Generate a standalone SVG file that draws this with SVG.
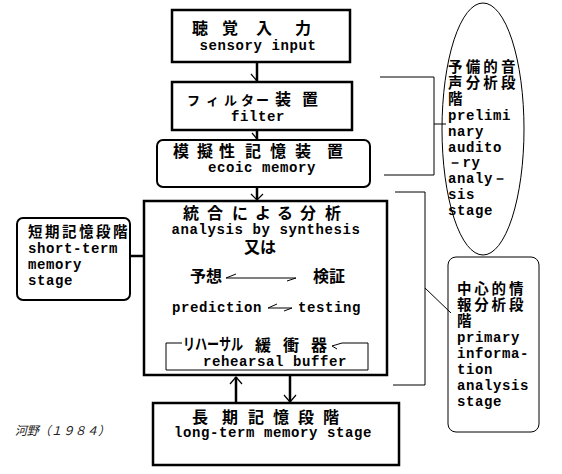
<svg xmlns="http://www.w3.org/2000/svg" width="562" height="474" viewBox="0 0 562 474">
<style>
.box{fill:#fff;stroke:#000;stroke-width:2.5}
.rbox{fill:#fff;stroke:#000;stroke-width:2}
.thin{fill:none;stroke:#000;stroke-width:1}
.ln{fill:none;stroke:#000;stroke-width:2.5}
.ln1{fill:none;stroke:#000;stroke-width:1.2}
.jp{font-family:"Noto Sans CJK JP","Noto Sans CJK SC",sans-serif;font-weight:bold;font-size:16px;fill:#000}
.jps{font-family:"Noto Sans CJK JP","Noto Sans CJK SC",sans-serif;font-weight:bold;font-size:14.5px;fill:#000}
.en{font-family:"Liberation Mono","DejaVu Sans Mono",monospace;font-weight:bold;font-size:14px;letter-spacing:0.6px;fill:#000}
.ref{font-family:"Noto Sans CJK JP",sans-serif;font-style:italic;font-size:12px;fill:#222}
</style>
<rect width="562" height="474" fill="#fff"/>
<g id="connectors">
<path class="ln" d="M257,62V81"/><path class="ln1" d="M251,74L257,81"/>
<path class="ln" d="M257,130V139"/><path class="ln1" d="M252,133L257,139"/>
<path class="ln" d="M257,187V200"/><path class="ln1" d="M251,194L257,200L263,194"/>
<path class="ln" d="M236,403V377"/><path class="ln1" d="M230,384L236,377L242,384"/>
<path class="ln" d="M290,376V402"/><path class="ln1" d="M284,395L290,402L296,395"/>
<path class="ln" d="M130,256H144"/>
<path class="thin" d="M380,77H434V175H384"/>
<path class="thin" d="M434,124H446"/>
<path class="thin" d="M395,192H425V385H393"/>
<path class="thin" d="M425,288L451,313"/>
</g>
<g id="sensory">
<rect class="box" x="172" y="10" width="178" height="52"/>
<text class="jp" x="192 222 256 295" y="34">聴覚入力</text>
<text class="en" x="258" y="50" text-anchor="middle">sensory input</text>
</g>
<g id="filter">
<rect class="box" x="172" y="82" width="180" height="48"/>
<text class="jp" y="105"><tspan x="187 206 224 241 256" font-size="13">フィルター</tspan><tspan x="275 302">装置</tspan></text>
<text class="en" x="258" y="121" text-anchor="middle">filter</text>
</g>
<g id="ecoic">
<rect class="rbox" x="157" y="140" width="213" height="47" rx="6"/>
<text class="jp" x="173 197 219 245 270 295 327" y="157">模擬性記憶装置</text>
<text class="en" x="262" y="172" text-anchor="middle">ecoic memory</text>
</g>
<g id="synthesis">
<rect class="box" x="144" y="201" width="243" height="174"/>
<text class="jp" x="183 207 232 255 277 300 325" y="219">統合による分析</text>
<text class="en" x="266" y="234" text-anchor="middle">analysis by synthesis</text>
<text class="jp" x="244" y="253">又は</text>
<text class="jp" x="190" y="282">予想</text>
<text class="jp" x="313" y="282">検証</text>
<path class="thin" d="M226,278H296M226,278L236,274M296,278L287,281"/>
<text class="en" x="172" y="312">prediction</text>
<text class="en" x="298" y="312">testing</text>
<path class="thin" d="M268,308H292M268,308L277,304M292,308L284,311"/>
<path class="thin" d="M182,343H166V370H368V343H342L332,346L337,349"/>
<text class="jp" x="183" y="350" font-size="14" textLength="60" lengthAdjust="spacingAndGlyphs">リハーサル</text>
<text class="jp" x="255 283 311" y="351">緩衝器</text>
<text class="en" x="203" y="366">rehearsal buffer</text>
</g>
<g id="shortterm">
<rect class="rbox" x="17" y="218" width="113" height="82" rx="6"/>
<text class="en"><tspan class="jps" x="28" y="237" textLength="100">短期記憶段階</tspan><tspan x="28" y="253">short-term</tspan><tspan x="28" y="269">memory</tspan><tspan x="28" y="285">stage</tspan></text>
</g>
<g id="preliminary">
<ellipse class="thin" cx="483" cy="129" rx="41" ry="126"/>
<text class="en"><tspan class="jps" x="448" y="72" textLength="68">予備的音</tspan><tspan class="jps" x="448" y="88" textLength="68">声分析段</tspan><tspan class="jps" x="448" y="104">階</tspan><tspan x="448" y="120">prelimi</tspan><tspan x="448" y="136">nary</tspan><tspan x="448" y="152">audito</tspan><tspan x="448" y="167">－ry</tspan><tspan x="448" y="183">analy－</tspan><tspan x="448" y="199">sis</tspan><tspan x="448" y="215">stage</tspan></text>
</g>
<g id="primary">
<rect class="thin" x="448" y="257" width="91" height="175" rx="8"/>
<text class="en"><tspan class="jps" x="457" y="294" textLength="67">中心的情</tspan><tspan class="jps" x="457" y="310" textLength="67">報分析段</tspan><tspan class="jps" x="457" y="326">階</tspan><tspan x="457" y="342">primary</tspan><tspan x="457" y="358">informa-</tspan><tspan x="457" y="374">tion</tspan><tspan x="457" y="390">analysis</tspan><tspan x="457" y="406">stage</tspan></text>
</g>
<g id="longterm">
<rect class="box" x="153" y="403" width="246" height="62"/>
<text class="jp" x="192 222 248 273 298 323" y="423">長期記憶段階</text>
<text class="en" x="273" y="437" text-anchor="middle">long-term memory stage</text>
</g>
<g id="reference">
<text class="ref" x="15" y="435" textLength="95" lengthAdjust="spacing">河野（１９８４）</text>
</g>
</svg>
